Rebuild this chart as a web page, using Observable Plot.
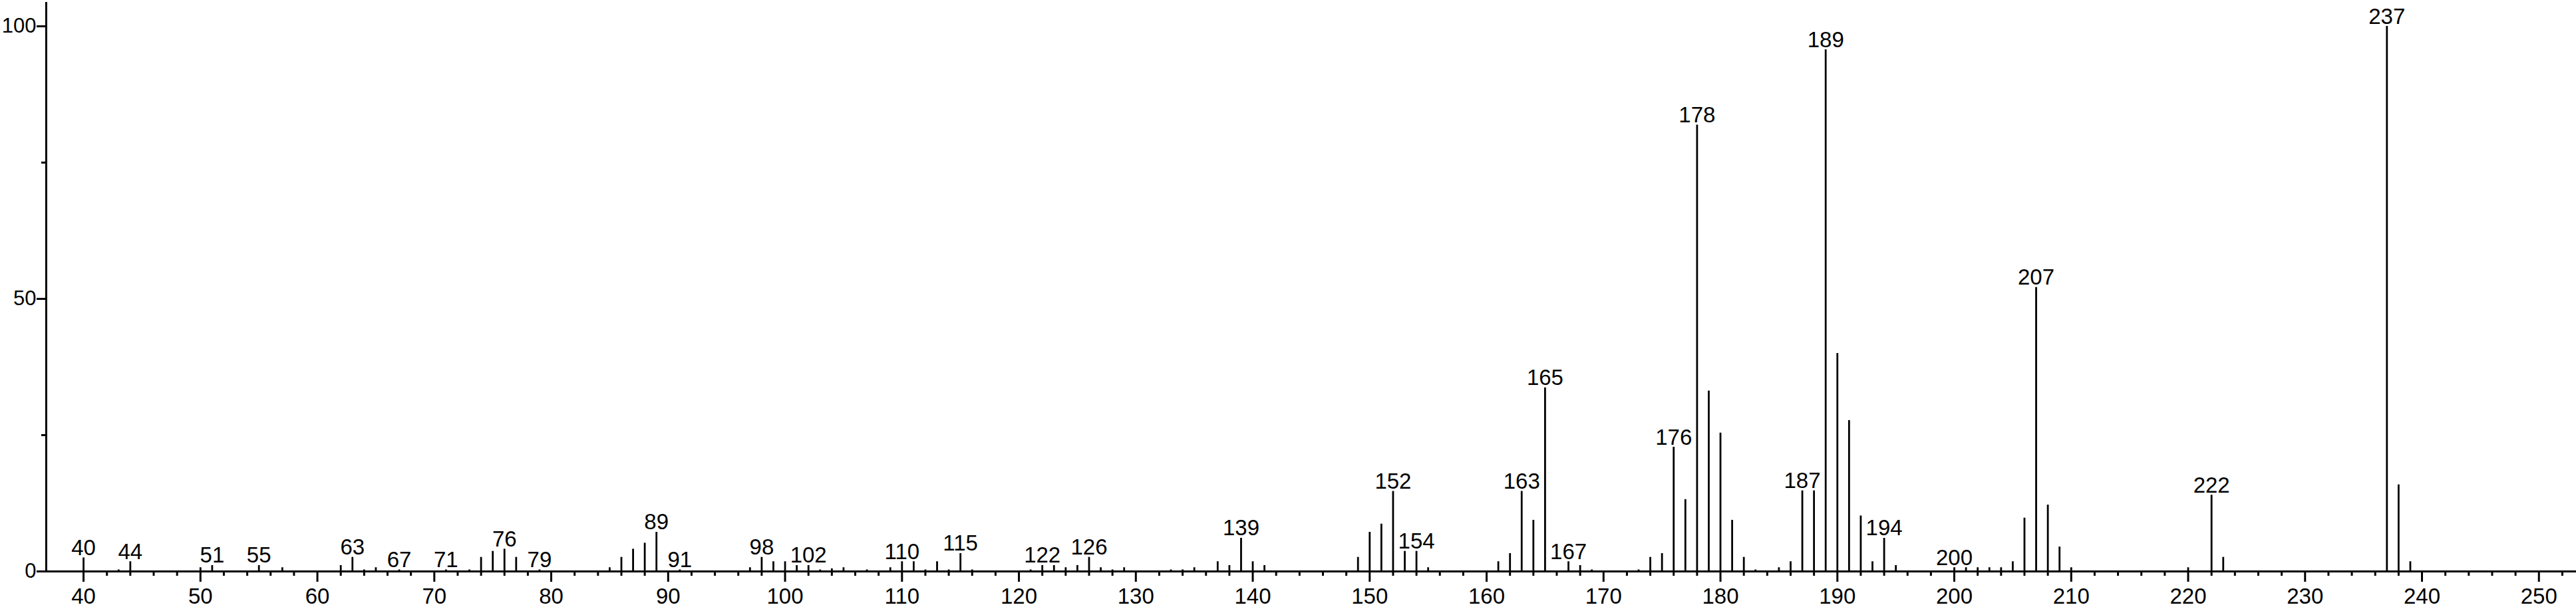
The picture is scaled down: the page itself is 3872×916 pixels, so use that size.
<!DOCTYPE html>
<html><head><meta charset="utf-8">
<script src="https://cdn.jsdelivr.net/npm/d3@7"></script>
<script src="https://cdn.jsdelivr.net/npm/@observablehq/plot@0.6"></script>
<style>html,body{margin:0;padding:0;background:#fff} svg{display:block}</style>
</head><body><div id="chart"></div>
<script>
// m/z values and relative intensities (%)
const mz = [40,43,44,50,51,55,57,62,63,64,65,67,71,73,74,75,76,77,79,85,86,87,88,89,91,97,98,99,100,101,102,103,104,105,107,109,110,111,112,113,114,115,116,121,122,123,124,125,126,127,128,129,133,134,135,137,138,139,140,141,149,150,151,152,153,154,155,161,162,163,164,165,167,168,169,173,174,175,176,177,178,179,180,181,182,183,185,186,187,188,189,190,191,192,193,194,195,200,201,202,203,204,205,206,207,208,209,210,220,222,223,237,238,239];
const intensity = [2.5,0.3,1.8,0.7,1.1,1.1,0.7,1.1,2.6,0.3,0.7,0.3,0.3,0.3,2.6,3.7,4.1,2.6,0.3,0.7,2.6,4.1,5.2,7.2,0.3,0.7,2.6,1.8,1.8,1.1,1.1,0.3,0.5,0.7,0.3,0.7,1.8,1.8,0.3,1.8,0.3,3.3,0.3,0.3,1.1,1.1,0.7,1.1,2.6,0.7,0.3,0.7,0.3,0.3,0.7,1.8,1.1,6.1,1.8,1.1,2.6,7.2,8.7,14.7,3.7,3.7,0.7,1.8,3.3,14.7,9.4,33.7,1.8,1.1,0.3,0.3,2.6,3.3,22.8,13.2,81.9,33.1,25.4,9.4,2.6,0.3,0.7,1.8,14.8,14.8,95.7,40.0,27.7,10.2,1.8,6.1,1.1,0.7,0.7,0.7,0.7,0.7,1.8,9.8,52.1,12.2,4.5,0.7,0.7,14.0,2.6,100,15.9,1.8];
const labeledPeaks = [40,44,51,55,63,67,71,76,79,89,91,98,102,110,115,122,126,139,152,154,163,165,167,176,178,187,189,194,200,207,222,237];
const xMajorTicks = [40,50,60,70,80,90,100,110,120,130,140,150,160,170,180,190,200,210,220,230,240,250];
const xMinorTicks = [42,44,46,48,52,54,56,58,62,64,66,68,72,74,76,78,82,84,86,88,92,94,96,98,102,104,106,108,112,114,116,118,122,124,126,128,132,134,136,138,142,144,146,148,152,154,156,158,162,164,166,168,172,174,176,178,182,184,186,188,192,194,196,198,202,204,206,208,212,214,216,218,222,224,226,228,232,234,236,238,242,244,246,248,252];
const yMajorTicks = [0,50,100];
const yMinorTicks = [25,75];
const xDomain = [36.81, 253.2];
const yDomain = [0, 104.4];

const peaks = mz.map((m, i) => ({mz: m, v: intensity[i]}));
const labels = peaks.filter(d => labeledPeaks.includes(d.mz));

const chart = Plot.plot({
  width: 3872, height: 916,
  marginLeft: 69, marginRight: 0, marginTop: 3, marginBottom: 57,
  style: {fontFamily: "'Liberation Sans', Arial, Helvetica, sans-serif", fontSize: "33px", color: "#000", background: "#fff"},
  x: {domain: xDomain},
  y: {domain: yDomain},
  marks: [
    Plot.axisX({ticks: xMajorTicks, tickSize: 16, tickPadding: 9, strokeWidth: 3, fontSize: 33, tickFormat: d => String(d), label: null}),
    Plot.axisX({ticks: xMinorTicks, tickSize: 7, text: null, strokeWidth: 3, label: null}),
    Plot.axisY({ticks: yMajorTicks, tickSize: 14, tickPadding: 1, strokeWidth: 3, fontSize: 31, tickFormat: d => String(d), label: null}),
    Plot.axisY({ticks: yMinorTicks, tickSize: 7, text: null, strokeWidth: 3, label: null}),
    Plot.ruleX(peaks, {x: "mz", y1: 0, y2: "v", strokeWidth: 2.8, stroke: "#000"}),
    Plot.ruleY([0], {strokeWidth: 3, stroke: "#000"}),
    Plot.ruleX([xDomain[0]], {strokeWidth: 3, stroke: "#000"}),
    Plot.text(labels, {x: "mz", y: "v", text: d => String(d.mz), lineAnchor: "bottom", dy: -4, fontSize: 33, fill: "#000"})
  ]
});
document.getElementById("chart").appendChild(chart);
</script>
</body></html>
